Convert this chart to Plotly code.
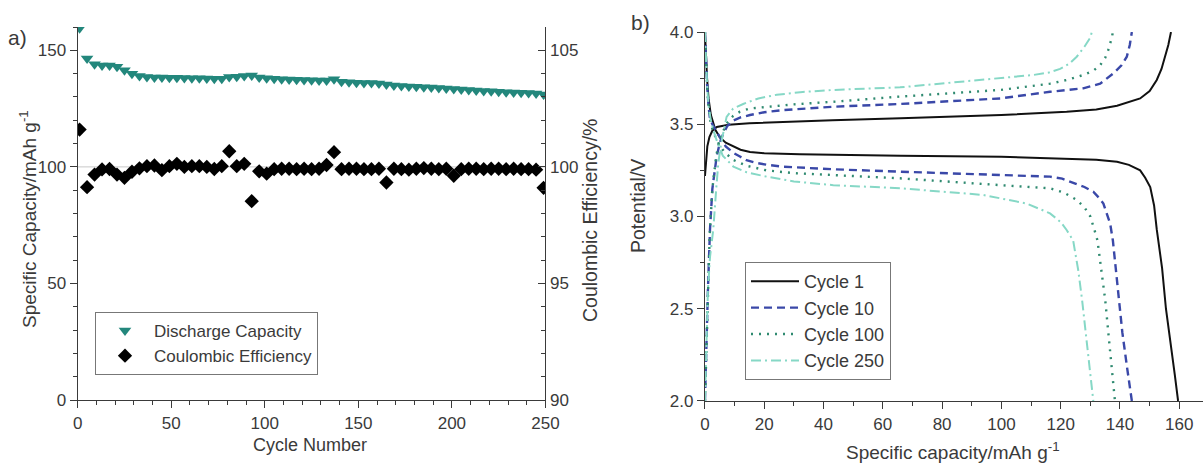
import plotly.graph_objects as go

# ---------------- Panel a) data ----------------
cycles = list(range(1, 250, 4))
discharge_capacity = [
    159.5, 146.5, 144.0, 143.5, 143.5, 143.0, 141.5, 140.0, 139.0, 138.5,
    138.3, 138.3, 138.2, 138.2, 138.1, 138.0, 138.0, 137.9, 137.8, 137.8,
    138.5, 138.7, 139.0, 139.2, 138.3, 138.0, 137.8, 137.6, 137.5, 137.4,
    137.3, 137.2, 137.0, 137.0, 137.6, 136.5, 136.3, 136.1, 136.0, 136.0,
    135.8, 135.3, 134.9, 134.7, 134.5, 134.4, 134.2, 134.0, 133.8, 133.6,
    133.4, 133.2, 133.0, 132.8, 132.6, 132.4, 132.2, 132.0, 131.9, 131.8,
    131.7, 131.5, 131.0]
coulombic_efficiency = [
    101.6, 99.13, 99.67, 99.89, 99.91, 99.67, 99.53, 99.79, 99.94, 100.03,
    100.06, 99.86, 100.03, 100.13, 100.0, 100.03, 100.03, 100.0, 99.91, 100.03,
    100.67, 100.03, 100.13, 98.53, 99.81, 99.71, 99.9, 99.92, 99.92, 99.9,
    99.92, 99.9, 99.92, 100.08, 100.63, 99.9, 99.92, 99.92, 99.9, 99.9,
    99.92, 99.33, 99.92, 99.9, 99.88, 99.92, 99.95, 99.92, 99.9, 99.92,
    99.62, 99.9, 99.92, 99.92, 99.9, 99.92, 99.92, 99.9, 99.92, 99.9,
    99.9, 99.88, 99.1]

# ---------------- Panel b) data ----------------
c1_charge_cap = [0, 0.3, 0.8, 1.5, 2.5, 4, 8, 15, 30, 43, 66, 100, 122, 132, 139, 143,
                 146.8, 150, 152.4, 154, 155.2, 156.3, 157.2]
c1_charge_v = [3.22, 3.30, 3.38, 3.43, 3.465, 3.485, 3.497, 3.505, 3.515, 3.522, 3.532,
               3.55, 3.568, 3.58, 3.60, 3.62, 3.64, 3.68, 3.74, 3.80, 3.866, 3.93, 4.0]
c1_dis_cap = [0, 0.3, 0.7, 1.2, 2, 3.5, 5, 7, 9.6, 12, 15.2, 20, 32, 50, 66, 100, 122,
              132, 139, 143, 146.8, 148.5, 150.2, 151.5, 152.4, 153.1, 154.2, 155.5,
              157, 158.5, 159.6]
c1_dis_v = [4.0, 3.88, 3.75, 3.64, 3.55, 3.47, 3.43, 3.40, 3.38, 3.362, 3.35, 3.343,
            3.337, 3.332, 3.33, 3.324, 3.315, 3.308, 3.297, 3.28, 3.25, 3.21, 3.16,
            3.06, 2.93, 2.85, 2.72, 2.50, 2.33, 2.14, 2.0]

c10_charge_cap = [0, 0.3, 0.6, 1.0, 1.7, 2.5, 3.9, 5, 6.2, 7.5, 9.6, 12, 15.2, 20, 26.4,
                  43.3, 65.8, 99.6, 116.4, 127.6, 133.3, 137.8, 140.5, 142.3, 143.3, 144]
c10_charge_v = [2.0, 2.2, 2.38, 2.6, 2.93, 3.15, 3.32, 3.40, 3.45, 3.49, 3.52, 3.537,
                3.55, 3.565, 3.577, 3.595, 3.61, 3.64, 3.676, 3.695, 3.72, 3.776, 3.82,
                3.866, 3.93, 4.0]
c10_dis_cap = [0, 0.3, 0.7, 1.2, 1.7, 2.5, 3.5, 5, 7, 9.6, 11.8, 14, 17.4, 21, 26.4,
               43.3, 65.8, 99.6, 116.4, 120.5, 124.3, 128, 131, 133, 134.4, 135.8,
               136.7, 137.6, 139.2, 140.8, 142.4, 144]
c10_dis_v = [4.0, 3.86, 3.72, 3.6, 3.53, 3.5, 3.47, 3.43, 3.38, 3.345, 3.325, 3.305,
             3.29, 3.28, 3.27, 3.256, 3.243, 3.225, 3.216, 3.205, 3.18, 3.16, 3.134,
             3.10, 3.07, 3.01, 2.96, 2.87, 2.62, 2.37, 2.18, 2.0]

c100_charge_cap = [0, 0.3, 0.6, 1.0, 1.6, 2.5, 3.8, 5, 7.3, 9.5, 11.8, 15, 20.8, 30,
                   43.3, 65.8, 99.6, 116.4, 122, 127.6, 131, 133.3, 135, 136, 137.2, 137.6]
c100_charge_v = [2.0, 2.2, 2.4, 2.6, 2.9, 3.15, 3.33, 3.42, 3.505, 3.545, 3.568, 3.585,
                 3.595, 3.608, 3.622, 3.65, 3.686, 3.72, 3.74, 3.767, 3.79, 3.82, 3.86,
                 3.90, 3.966, 4.0]
c100_dis_cap = [0, 0.3, 0.7, 1.2, 2, 3, 4.5, 6.5, 9.6, 14, 20.8, 30, 43.3, 65.8, 99.6,
                116.4, 121, 125.4, 128, 130, 131.7, 132.4, 133.7, 135, 136.6, 138.3]
c100_dis_v = [4.0, 3.86, 3.72, 3.6, 3.5, 3.45, 3.40, 3.35, 3.306, 3.275, 3.25, 3.235,
              3.224, 3.207, 3.17, 3.153, 3.13, 3.09, 3.05, 3.0, 2.91, 2.87, 2.71, 2.55,
              2.28, 2.0]

c250_charge_cap = [0, 0.3, 0.6, 1.0, 1.7, 2.8, 3.8, 4.5, 5.5, 7.3, 9.5, 12.9, 18, 24.2,
                   33, 43.3, 65.8, 93.8, 110.7, 116, 119.8, 123, 125.4, 128, 130, 130.5]
c250_charge_v = [2.0, 2.2, 2.4, 2.6, 2.78, 2.93, 3.15, 3.29, 3.40, 3.54, 3.585, 3.61,
                 3.64, 3.66, 3.675, 3.686, 3.70, 3.74, 3.767, 3.78, 3.80, 3.83, 3.866,
                 3.92, 3.97, 4.0]
c250_dis_cap = [0, 0.3, 0.7, 1.2, 2, 3, 3.9, 6, 9.6, 14, 20.8, 30, 43.3, 65.8, 93.8,
                108.6, 116.4, 120, 122, 124.2, 125.9, 127.2, 129.1, 131]
c250_dis_v = [4.0, 3.86, 3.72, 3.6, 3.52, 3.46, 3.415, 3.33, 3.27, 3.24, 3.216, 3.19,
              3.17, 3.153, 3.117, 3.07, 3.017, 2.97, 2.927, 2.87, 2.71, 2.55, 2.28, 2.0]

cycle_names = ["Cycle 1", "Cycle 10", "Cycle 100", "Cycle 250"]

FONT = "Liberation Sans, Arial, sans-serif"
AX = "#3a3a3a"
TEAL = "#23877c"

fig = go.Figure()

fig.add_trace(go.Scatter(
    x=cycles, y=discharge_capacity, mode="markers", name="Discharge Capacity",
    marker=dict(symbol="triangle-down", size=11, color=TEAL, line=dict(width=0)),
    xaxis="x", yaxis="y", legend="legend"))
fig.add_trace(go.Scatter(
    x=cycles, y=coulombic_efficiency, mode="markers", name="Coulombic Efficiency",
    marker=dict(symbol="diamond", size=11, color="#000000", line=dict(width=0)),
    xaxis="x", yaxis="y2", legend="legend"))

styles = [
    dict(color="#111111", width=2.0, dash="solid"),
    dict(color="#3a48a8", width=2.4, dash="8px,5px"),
    dict(color="#2f8a70", width=2.4, dash="2px,6px"),
    dict(color="#86d8c6", width=2.0, dash="10px,4px,2px,4px"),
]
curves = [
    (c1_charge_cap, c1_charge_v, c1_dis_cap, c1_dis_v),
    (c10_charge_cap, c10_charge_v, c10_dis_cap, c10_dis_v),
    (c100_charge_cap, c100_charge_v, c100_dis_cap, c100_dis_v),
    (c250_charge_cap, c250_charge_v, c250_dis_cap, c250_dis_v),
]
for name, st, (cc, cv, dc, dv) in zip(cycle_names, styles, curves):
    fig.add_trace(go.Scatter(
        x=list(cc) + [None] + list(dc), y=list(cv) + [None] + list(dv),
        mode="lines", name=name, line=st, connectgaps=False,
        xaxis="x2", yaxis="y3", legend="legend2"))

tickfont = dict(family=FONT, size=17, color=AX)
common = dict(showline=True, linecolor=AX, linewidth=1.3, showgrid=False,
              zeroline=False, tickfont=tickfont, tickcolor=AX, ticklen=7,
              tickwidth=1.3, automargin=False)

fig.update_layout(
    width=1203, height=464,
    margin=dict(l=0, r=0, t=0, b=0, autoexpand=False),
    paper_bgcolor="white", plot_bgcolor="white",
    font=dict(family=FONT, color=AX),
    xaxis=dict(domain=[0.0646, 0.4534], range=[0, 250], anchor="y",
               ticks="outside", dtick=50, tick0=0,
               minor=dict(dtick=10, ticklen=4, ticks="outside", tickcolor=AX),
               **common),
    yaxis=dict(domain=[0.1379, 0.9418], range=[0, 160], anchor="x",
               ticks="outside", dtick=50, tick0=0,
               minor=dict(dtick=10, ticklen=4, ticks="outside", tickcolor=AX),
               **common),
    yaxis2=dict(overlaying="y", side="right", range=[90, 106], anchor="x",
                ticks="inside", dtick=5, tick0=90,
                minor=dict(dtick=1, ticklen=4, ticks="inside", tickcolor=AX),
                **common),
    xaxis2=dict(domain=[0.586, 1.0], range=[0, 168], anchor="y3",
                ticks="outside", dtick=20, tick0=0,
                minor=dict(dtick=10, ticklen=4, ticks="outside", tickcolor=AX),
                **common),
    yaxis3=dict(domain=[0.1358, 0.931], range=[2.0, 4.0], anchor="x2",
                ticks="outside", dtick=0.5, tick0=2.0, tickformat=".1f",
                minor=dict(dtick=0.25, ticklen=4, ticks="outside", tickcolor=AX),
                **common),
    legend=dict(x=95 / 1203, y=1 - 312 / 464, xanchor="left", yanchor="top",
                bgcolor="white", bordercolor="#777777", borderwidth=1,
                itemwidth=48,
                font=dict(family=FONT, size=17, color=AX), tracegroupgap=0),
    legend2=dict(x=745 / 1203, y=1 - 262 / 464, xanchor="left", yanchor="top",
                 bgcolor="white", bordercolor="#777777", borderwidth=1,
                 itemwidth=48,
                 font=dict(family=FONT, size=18, color=AX), tracegroupgap=0),
    showlegend=True,
)

# reference line at 100 in panel a
fig.add_shape(type="line", xref="x", yref="y", x0=0, x1=250, y0=100, y1=100,
              line=dict(color="#c8c8c8", width=1), layer="below")

def ann(text, x, y, size, angle=0):
    fig.add_annotation(text=text, x=x / 1203, y=1 - y / 464, xref="paper", yref="paper",
                       showarrow=False, textangle=angle, xanchor="center", yanchor="middle",
                       font=dict(family=FONT, size=size, color=AX))

ann("a)", 17, 37, 21)
ann("b)", 640, 23, 21)
ann("Cycle Number", 310, 445, 18)
ann("Specific capacity/mAh g<sup>-1</sup>", 953, 451, 19)
ann("Specific Capacity/mAh g<sup>-1</sup>", 28, 219, 19, -90)
ann("Coulombic Efficiency/%", 590, 221, 19.5, -90)
ann("Potential/V", 638, 206, 19.5, -90)

fig.write_html(
    "out.html",
    config={"displayModeBar": False},
    post_script="document.body.style.margin='0';document.body.style.overflow='hidden';",
)
